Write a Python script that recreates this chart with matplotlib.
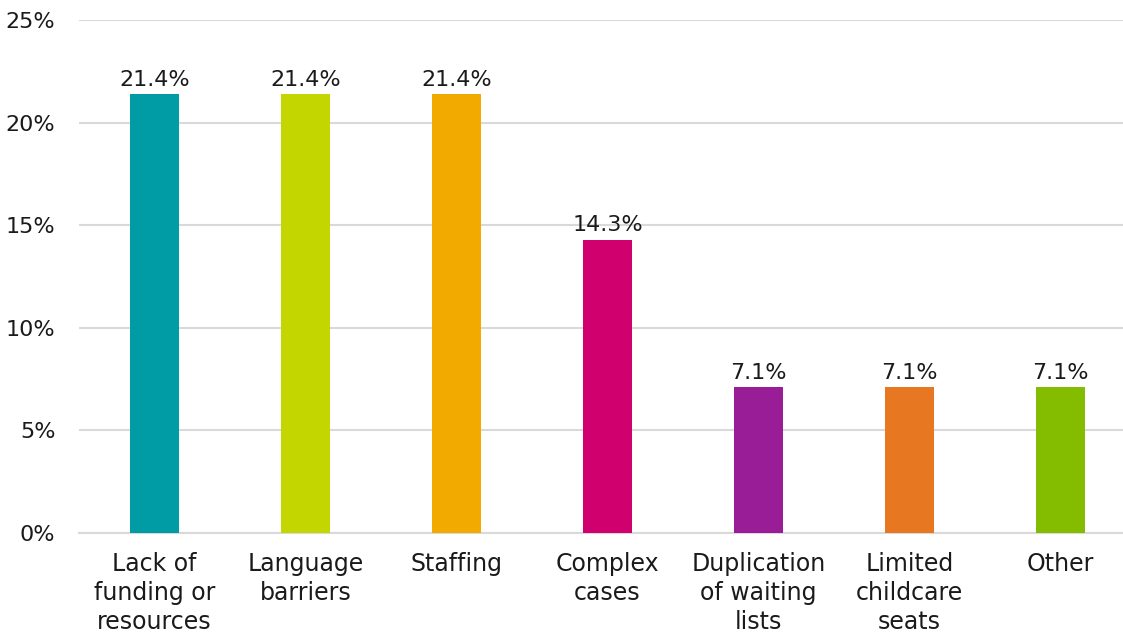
import matplotlib
matplotlib.use("Agg")
import matplotlib.pyplot as plt

categories = ["Lack of\nfunding or\nresources", "Language\nbarriers", "Staffing",
              "Complex\ncases", "Duplication\nof waiting\nlists", "Limited\nchildcare\nseats", "Other"]
values = [21.4, 21.4, 21.4, 14.3, 7.1, 7.1, 7.1]
colors = ["#009CA6", "#C4D600", "#F2A900", "#D0006F", "#981D97", "#E87722", "#84BD00"]
yticks = [0, 5, 10, 15, 20, 25]
ytick_labels = ["0%", "5%", "10%", "15%", "20%", "25%"]

plt.rcParams['font.family'] = ['DejaVu Sans']

W, H = 1123, 634
fig = plt.figure(figsize=(W/100, H/100), dpi=100)
left, right = 79, 1136
top, bottom = 20, 533
ax = fig.add_axes([left/W, 1 - bottom/H, (right-left)/W, (bottom-top)/H])

fs_num = 16
fs_cat = 17
x = list(range(len(categories)))
ax.bar(x, values, width=0.32, color=colors, zorder=3)
for xi, v in zip(x, values):
    ax.annotate(f"{v:.1f}%", (xi, v), xytext=(0, 3), textcoords="offset points",
                ha="center", va="bottom", fontsize=fs_num, color="#1a1a1a")

ax.set_xlim(-0.5, len(categories) - 0.5)
ax.set_ylim(0, 25)
ax.set_yticks(yticks)
ax.set_yticklabels(ytick_labels, fontsize=fs_num, color="#1a1a1a")
ax.set_xticks(x)
ax.set_xticklabels(categories, fontsize=fs_cat, color="#1a1a1a", linespacing=1.26)
ax.tick_params(axis='both', length=0)
ax.tick_params(axis='x', pad=14)
ax.tick_params(axis='y', pad=17)
ax.grid(axis='y', color="#D9D9D9", linewidth=1.5, zorder=0)
for s in ["top", "right", "left"]:
    ax.spines[s].set_visible(False)
ax.spines["bottom"].set_color("#D9D9D9")
ax.spines["bottom"].set_linewidth(1.5)

fig.savefig("out.png", dpi=100)
